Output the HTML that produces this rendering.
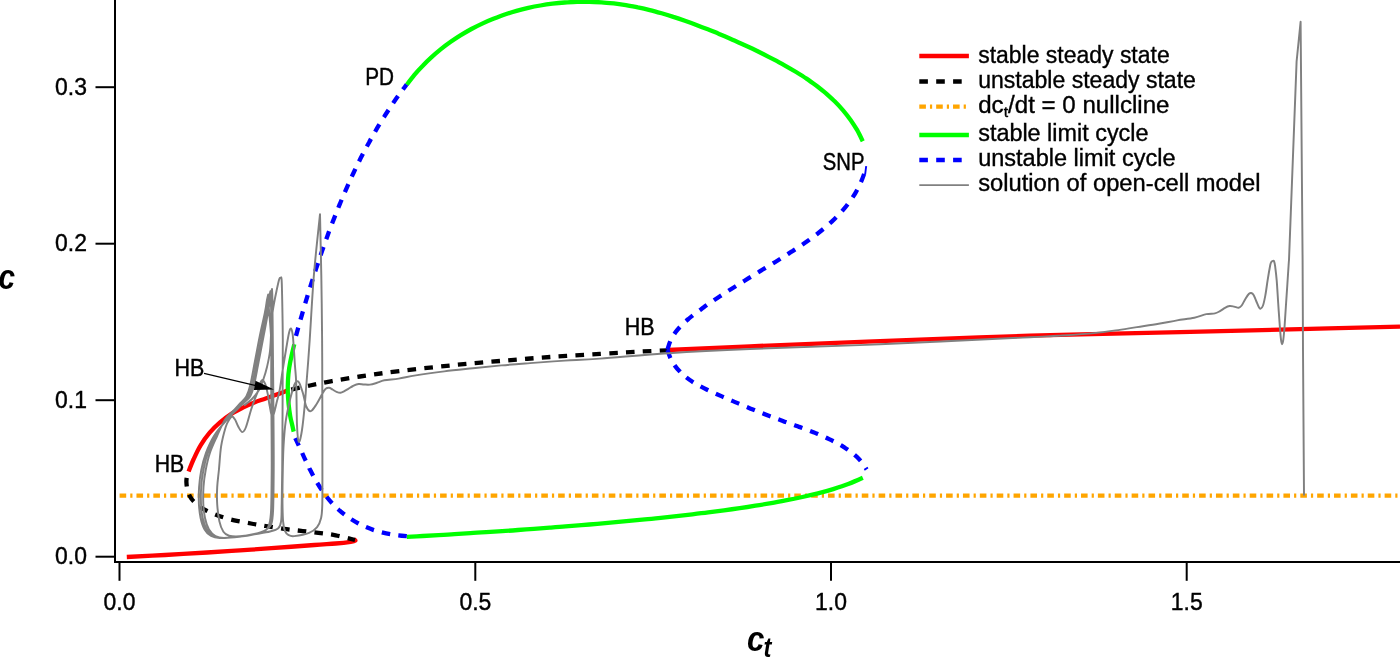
<!DOCTYPE html>
<html lang="en"><head><meta charset="utf-8"><title>Bifurcation diagram</title>
<style>html,body{margin:0;padding:0;background:#fff}body{width:1400px;height:657px;overflow:hidden}svg{display:block}text{font-family:"Liberation Sans",sans-serif;fill:#000}</style>
</head><body>
<svg width="1400" height="657" viewBox="0 0 1400 657">
<rect width="1400" height="657" fill="#fff"/>
<path d="M119.6 495.6H1397.6" stroke="#ffa500" stroke-width="4.3" fill="none" stroke-dasharray="6.6 4.05 2.2 4.017"/>
<path d="M126.8 557.0C133.2 556.7 151.6 555.8 165.0 555.0C178.4 554.2 194.6 553.3 207.1 552.5C219.6 551.7 229.3 551.1 240.0 550.4C250.7 549.7 259.0 549.1 271.4 548.2C283.8 547.3 303.6 545.8 314.3 545.0C325.0 544.2 329.6 544.0 335.7 543.5C341.8 543.0 347.4 542.3 350.7 541.8C354.0 541.3 354.8 540.9 355.3 540.5C355.8 540.1 353.8 539.5 353.5 539.3" stroke="#ff0000" stroke-width="4.3" fill="none"/>
<path d="M188.6 471.5C189.4 469.4 191.7 463.4 193.7 459.0C195.7 454.6 197.9 449.7 200.6 445.3C203.3 440.9 206.5 436.5 209.7 432.7C212.9 428.9 216.4 425.5 220.0 422.4C223.6 419.3 227.6 416.4 231.4 413.9C235.2 411.4 239.1 409.5 242.9 407.6C246.7 405.7 250.5 403.9 254.3 402.4C258.1 400.9 261.5 399.9 265.7 398.4C269.9 396.9 275.8 394.9 279.4 393.6C283.0 392.3 286.1 391.0 287.5 390.5" stroke="#ff0000" stroke-width="4.3" fill="none"/>
<path d="M668.3 350.0C681.9 349.4 714.7 347.8 750.0 346.3C785.3 344.8 833.3 342.9 880.0 341.1C926.7 339.3 980.0 337.2 1030.0 335.7C1080.0 334.2 1135.0 333.2 1180.0 332.1C1225.0 331.0 1263.3 330.1 1300.0 329.2C1336.7 328.3 1383.3 327.0 1400.0 326.6" stroke="#ff0000" stroke-width="4.3" fill="none"/>
<path d="M355.0 540.0C351.8 539.2 341.8 536.5 335.7 535.3C329.6 534.1 324.1 533.6 318.3 532.9C312.5 532.2 306.8 531.6 301.1 530.9C295.4 530.2 289.9 529.7 284.0 528.9C278.1 528.1 271.2 526.9 265.7 526.0C260.2 525.1 256.1 524.5 250.9 523.5C245.7 522.5 239.7 521.6 234.3 520.3C228.9 519.0 223.4 517.5 218.3 515.7C213.2 513.9 208.0 511.6 204.0 509.4C200.0 507.1 196.8 504.3 194.5 502.2C192.2 500.1 191.2 498.7 190.0 496.5C188.8 494.3 187.9 491.4 187.3 489.0C186.7 486.6 186.5 484.2 186.4 482.0C186.3 479.8 186.7 477.8 187.0 476.0C187.3 474.2 188.1 471.8 188.3 471.0" stroke="#000" stroke-width="4.3" fill="none" stroke-dasharray="8.59 8.26" stroke-dashoffset="1"/>
<path d="M288.0 390.3C291.7 389.5 302.7 387.0 310.0 385.5C317.3 384.0 323.7 382.6 332.0 381.1C340.3 379.6 348.7 378.2 360.0 376.5C371.3 374.8 385.0 372.8 400.0 371.0C415.0 369.2 433.3 367.2 450.0 365.5C466.7 363.8 483.3 362.4 500.0 361.0C516.7 359.6 533.3 358.2 550.0 357.0C566.7 355.8 585.0 354.8 600.0 353.9C615.0 353.0 628.7 352.2 640.0 351.6C651.3 351.0 663.2 350.5 667.8 350.3" stroke="#000" stroke-width="4.3" fill="none" stroke-dasharray="8.59 8.26" stroke-dashoffset="13.45"/>
<path d="M866.2 166.1L865.1 174.5" stroke="#0000ff" stroke-width="1.9" fill="none"/>
<path d="M406.7 84.8C408.0 83.1 411.8 78.1 414.4 74.9C417.1 71.7 419.9 68.6 422.8 65.7C425.6 62.7 428.6 59.8 431.6 57.1C434.6 54.3 437.7 51.7 440.9 49.1C444.1 46.6 447.3 44.2 450.7 41.8C454.0 39.5 457.4 37.2 460.8 35.1C464.3 33.0 467.8 31.0 471.4 29.0C474.9 27.1 478.6 25.3 482.2 23.6C485.9 21.9 489.6 20.3 493.4 18.8C497.2 17.3 501.0 15.8 504.8 14.5C508.7 13.2 512.6 12.0 516.5 10.9C520.4 9.8 524.4 8.8 528.3 7.9C532.3 7.0 536.3 6.2 540.4 5.5C544.4 4.8 548.4 4.2 552.5 3.7C556.6 3.2 560.6 2.8 564.7 2.5C568.8 2.2 572.9 2.0 577.0 1.8C581.1 1.7 585.2 1.7 589.3 1.8C593.4 1.9 597.5 2.1 601.6 2.3C605.6 2.6 609.7 3.0 613.8 3.4C617.8 3.9 621.9 4.5 625.9 5.1C629.9 5.8 633.9 6.5 637.9 7.4C641.9 8.2 645.9 9.1 649.8 10.1C653.8 11.1 657.7 12.2 661.6 13.3C665.5 14.4 669.4 15.6 673.3 16.9C677.2 18.1 681.0 19.4 684.9 20.8C688.7 22.1 692.6 23.5 696.4 25.0C700.2 26.4 704.0 27.9 707.8 29.3C711.6 30.8 715.3 32.4 719.1 33.9C722.8 35.5 726.6 37.1 730.3 38.7C734.1 40.3 737.8 42.0 741.5 43.7C745.2 45.4 748.9 47.1 752.6 48.8C756.3 50.6 759.9 52.4 763.6 54.2C767.3 56.1 770.9 58.0 774.6 59.9C778.2 61.8 781.8 63.8 785.4 65.8C789.0 67.8 792.6 69.9 796.1 72.0C799.6 74.2 803.1 76.4 806.5 78.6C809.9 80.9 813.2 83.3 816.5 85.7C819.7 88.2 822.9 90.7 826.0 93.3C829.0 96.0 832.0 98.7 834.9 101.5C837.7 104.3 840.5 107.3 843.1 110.3C845.7 113.4 848.2 116.6 850.6 119.9C852.9 123.2 855.1 126.6 857.2 130.2C859.2 133.8 861.9 139.5 862.8 141.3" stroke="#00ff00" stroke-width="4.3" fill="none"/>
<path d="M406.8 536.8C409.4 536.7 417.4 536.3 422.7 536.0C428.0 535.7 433.3 535.4 438.6 535.1C443.9 534.8 449.2 534.5 454.5 534.1C459.8 533.8 465.1 533.5 470.4 533.2C475.7 532.8 481.0 532.5 486.3 532.2C491.6 531.8 496.9 531.5 502.2 531.1C507.4 530.8 512.7 530.4 518.0 530.0C523.3 529.6 528.6 529.3 533.9 528.9C539.2 528.5 544.5 528.1 549.8 527.7C555.0 527.3 560.3 526.9 565.6 526.4C570.9 526.0 576.2 525.6 581.5 525.2C586.8 524.7 592.0 524.3 597.3 523.8C602.6 523.3 607.9 522.9 613.2 522.4C618.5 521.9 623.7 521.4 629.0 520.9C634.3 520.4 639.6 519.9 644.9 519.4C650.1 518.8 655.4 518.3 660.7 517.8C666.0 517.2 671.3 516.7 676.5 516.1C681.8 515.5 687.1 514.9 692.4 514.3C697.7 513.7 702.9 513.1 708.2 512.4C713.5 511.7 718.7 511.1 724.0 510.4C729.3 509.6 734.5 508.9 739.8 508.1C745.0 507.4 750.3 506.6 755.5 505.7C760.7 504.9 766.0 504.0 771.2 503.1C776.4 502.2 781.6 501.2 786.8 500.2C792.0 499.2 797.3 498.1 802.4 497.0C807.6 495.9 812.8 494.7 817.9 493.4C823.0 492.1 828.1 490.7 833.2 489.1C838.2 487.5 843.2 485.9 848.2 484.0C853.1 482.1 860.4 478.8 862.8 477.7" stroke="#00ff00" stroke-width="4.3" fill="none"/>
<path d="M294.3 344.3C293.8 346.2 292.4 352.1 291.5 356.0C290.6 359.9 289.8 364.0 289.2 368.0C288.6 372.0 288.2 376.0 288.0 380.0C287.8 384.0 287.7 388.0 287.8 392.0C287.9 396.0 288.2 400.0 288.6 404.0C289.0 408.0 289.6 412.5 290.2 416.0C290.8 419.5 291.6 422.4 292.2 425.0C292.8 427.6 293.4 430.5 293.7 431.6" stroke="#00ff00" stroke-width="4.3" fill="none"/>
<path d="M406.6 84.6C405.6 86.0 402.6 89.9 400.7 92.5C398.7 95.2 396.8 97.8 394.9 100.5C393.1 103.2 391.2 105.9 389.4 108.7C387.6 111.4 385.8 114.1 384.1 116.9C382.3 119.7 380.6 122.4 378.9 125.2C377.2 128.0 375.6 130.8 374.0 133.7C372.3 136.5 370.7 139.3 369.2 142.2C367.6 145.1 366.0 147.9 364.5 150.8C363.0 153.7 361.5 156.6 360.0 159.5C358.6 162.5 357.1 165.4 355.7 168.3C354.3 171.3 352.9 174.2 351.5 177.2C350.2 180.2 348.8 183.1 347.5 186.1C346.2 189.1 344.9 192.1 343.6 195.1C342.3 198.1 341.0 201.1 339.8 204.2C338.5 207.2 337.3 210.2 336.1 213.3C334.9 216.3 333.7 219.4 332.5 222.4C331.3 225.5 330.2 228.5 329.0 231.6C327.9 234.7 326.8 237.7 325.7 240.8C324.6 243.9 323.5 247.0 322.4 250.1C321.3 253.2 320.2 256.3 319.2 259.4C318.2 262.5 317.1 265.6 316.1 268.7C315.1 271.8 314.1 274.9 313.1 278.0C312.1 281.1 311.1 284.3 310.1 287.4C309.1 290.5 308.2 293.6 307.2 296.8C306.3 299.9 305.4 303.0 304.4 306.2C303.5 309.3 302.6 312.4 301.7 315.6C300.8 318.7 299.9 321.8 299.0 325.0C298.1 328.1 297.3 331.2 296.4 334.4C295.5 337.5 294.3 342.2 293.8 343.8" stroke="#0000ff" stroke-width="4.3" fill="none" stroke-dasharray="8.62 8.28" stroke-dashoffset="2.6"/>
<path d="M667.4 349.8C667.9 348.3 669.2 343.5 670.5 340.6C671.8 337.8 673.5 335.1 675.3 332.6C677.1 330.0 679.2 327.7 681.4 325.4C683.6 323.1 686.0 321.0 688.4 319.0C690.8 316.9 693.4 314.9 696.0 313.0C698.5 311.0 701.2 309.2 703.8 307.3C706.4 305.4 709.0 303.6 711.7 301.8C714.3 300.0 717.0 298.2 719.6 296.5C722.3 294.7 725.0 293.0 727.6 291.3C730.3 289.6 733.0 287.9 735.7 286.2C738.4 284.5 741.1 282.8 743.8 281.2C746.5 279.5 749.2 277.8 751.9 276.2C754.7 274.5 757.4 272.9 760.1 271.2C762.8 269.5 765.6 267.9 768.3 266.2C771.0 264.5 773.8 262.9 776.5 261.2C779.2 259.5 781.9 257.8 784.7 256.1C787.4 254.4 790.1 252.6 792.9 250.9C795.6 249.1 798.3 247.3 801.0 245.5C803.7 243.7 806.3 241.9 809.0 240.0C811.6 238.1 814.2 236.2 816.8 234.2C819.3 232.3 821.8 230.3 824.3 228.2C826.7 226.1 829.1 224.0 831.5 221.9C833.8 219.7 836.1 217.5 838.3 215.2C840.4 212.9 842.5 210.6 844.6 208.2C846.6 205.8 848.5 203.3 850.3 200.7C852.1 198.2 853.9 195.5 855.5 192.8C857.1 190.1 858.6 187.3 859.9 184.4C861.3 181.5 862.5 178.5 863.6 175.4C864.7 172.4 866.1 167.5 866.5 165.9" stroke="#0000ff" stroke-width="4.3" fill="none" stroke-dasharray="8.87 8.53" stroke-dashoffset="0"/>
<path d="M667.5 350.0C668.0 351.3 669.3 355.6 670.4 358.1C671.6 360.6 673.0 363.0 674.5 365.2C676.0 367.4 677.7 369.4 679.6 371.3C681.4 373.3 683.4 375.0 685.5 376.7C687.6 378.4 689.8 380.0 692.1 381.5C694.3 383.0 696.7 384.3 699.1 385.7C701.6 387.0 704.1 388.3 706.6 389.5C709.1 390.7 711.7 391.9 714.2 393.0C716.8 394.2 719.4 395.3 721.9 396.4C724.5 397.5 727.0 398.6 729.5 399.7C732.1 400.8 734.6 401.8 737.1 402.9C739.6 404.0 742.1 405.0 744.7 406.1C747.2 407.1 749.7 408.2 752.2 409.2C754.7 410.2 757.3 411.2 759.8 412.2C762.3 413.2 764.8 414.2 767.4 415.2C769.9 416.2 772.5 417.1 775.0 418.1C777.6 419.1 780.2 420.0 782.8 420.9C785.3 421.9 788.0 422.8 790.6 423.7C793.2 424.7 795.8 425.6 798.4 426.6C801.0 427.5 803.6 428.5 806.2 429.4C808.8 430.4 811.4 431.4 814.0 432.4C816.5 433.5 819.1 434.5 821.6 435.6C824.2 436.7 826.7 437.9 829.1 439.1C831.6 440.3 834.0 441.5 836.4 442.8C838.8 444.1 841.2 445.5 843.5 446.9C845.8 448.4 848.1 449.8 850.2 451.5C852.4 453.1 854.5 454.8 856.5 456.6C858.4 458.5 860.3 460.4 862.0 462.6C863.7 464.7 865.9 468.4 866.6 469.5" stroke="#0000ff" stroke-width="4.3" fill="none" stroke-dasharray="8.62 8.28" stroke-dashoffset="0"/>
<path d="M406.8 536.2C405.5 536.1 401.3 535.8 398.5 535.4C395.7 535.1 393.0 534.7 390.2 534.2C387.4 533.7 384.7 533.1 381.9 532.4C379.2 531.7 376.5 531.0 373.8 530.1C371.2 529.2 368.6 528.2 366.0 527.1C363.4 526.0 360.9 524.8 358.5 523.5C356.0 522.2 353.6 520.8 351.3 519.3C348.9 517.8 346.7 516.2 344.5 514.5C342.3 512.9 340.1 511.1 338.1 509.2C336.0 507.3 334.1 505.4 332.2 503.4C330.3 501.3 328.5 499.2 326.8 497.0C325.1 494.9 323.4 492.6 321.9 490.3C320.3 488.0 318.8 485.6 317.4 483.2C315.9 480.8 314.5 478.3 313.2 475.8C311.9 473.3 310.6 470.8 309.3 468.3C308.1 465.8 306.9 463.2 305.7 460.7C304.5 458.1 303.3 455.6 302.2 453.0C301.0 450.5 299.9 448.0 298.7 445.5C297.6 443.0 295.8 439.3 295.3 438.1" stroke="#0000ff" stroke-width="4.3" fill="none" stroke-dasharray="8.54 8.20" stroke-dashoffset="0"/>
<g stroke="#808080" stroke-width="1.95" fill="none" stroke-linejoin="round">
<path d="M1304.0 495.6L1303.0 351L1302.6 260L1300.6 21.8L1296.6 61.4L1289 260"/>
<path d="M1289.0 260.0C1288.9 260.9 1289.0 259.3 1288.6 265.2C1288.2 271.1 1287.3 285.5 1286.6 295.6C1285.9 305.7 1285.1 318.6 1284.6 326.0C1284.0 333.4 1283.7 336.6 1283.3 339.7C1282.9 342.8 1282.4 344.3 1282.0 344.3C1281.6 344.3 1281.4 342.8 1281.0 339.7C1280.6 336.6 1280.3 332.1 1279.8 326.0C1279.3 319.9 1278.7 310.8 1278.2 303.2C1277.7 295.6 1277.2 286.5 1276.7 280.4C1276.2 274.3 1275.6 269.9 1275.2 266.7C1274.8 263.5 1274.5 262.4 1274.1 261.4C1273.7 260.4 1273.4 260.8 1272.9 260.9C1272.5 261.0 1271.9 261.2 1271.4 261.9C1271.0 262.6 1270.8 262.1 1270.2 265.2C1269.6 268.3 1268.4 275.3 1267.6 280.4C1266.8 285.5 1266.1 291.4 1265.3 295.6C1264.5 299.8 1263.8 303.3 1263.0 305.5C1262.2 307.7 1261.4 308.4 1260.7 308.6C1260.0 308.9 1259.5 308.3 1258.8 307.0C1258.0 305.7 1257.1 303.0 1256.2 301.0C1255.3 299.0 1254.4 296.2 1253.6 294.9C1252.8 293.6 1252.0 293.2 1251.2 293.0C1250.4 292.8 1250.0 292.9 1249.0 293.8C1248.0 294.8 1246.7 296.8 1245.5 298.7C1244.3 300.6 1242.8 304.0 1241.7 305.5C1240.6 307.0 1240.0 307.6 1238.7 307.8C1237.4 308.0 1235.6 306.9 1234.1 306.6C1232.6 306.3 1231.1 305.8 1229.6 306.0C1228.1 306.2 1226.6 306.9 1225.0 307.8C1223.4 308.7 1221.7 310.2 1220.0 311.1C1218.3 312.0 1217.2 312.9 1214.9 313.4C1212.6 313.9 1209.7 313.4 1206.3 314.1C1202.9 314.8 1199.2 316.8 1194.3 317.8C1189.4 318.9 1183.0 319.4 1177.1 320.4C1171.1 321.4 1165.3 322.7 1158.6 323.8C1151.9 324.9 1144.2 326.0 1137.0 327.1C1129.8 328.2 1122.9 329.4 1115.7 330.4C1108.5 331.4 1103.0 332.2 1094.0 333.1C1085.0 334.0 1072.7 334.8 1062.0 335.5C1051.3 336.2 1060.3 335.7 1030.0 337.2C999.7 338.7 926.7 342.3 880.0 344.3C833.3 346.3 785.2 347.5 750.0 349.0C714.8 350.5 693.6 351.6 668.6 353.2C643.6 354.8 617.3 357.4 600.0 358.6C582.7 359.8 576.7 359.9 565.0 360.6C553.3 361.4 540.6 362.3 530.0 363.1C519.4 363.9 510.9 364.5 501.4 365.4C491.9 366.3 482.4 367.3 472.9 368.3C463.4 369.3 453.8 370.2 444.3 371.4C434.8 372.6 423.3 374.2 415.7 375.4C408.1 376.6 403.8 377.8 398.6 378.6C393.4 379.4 387.9 379.6 384.3 380.3C380.7 381.0 379.4 382.1 377.0 382.8C374.6 383.5 372.2 384.3 370.0 384.6C367.8 384.9 365.9 384.6 364.0 384.5C362.1 384.4 360.4 383.8 358.6 384.0C356.8 384.2 354.7 385.2 353.0 386.0C351.3 386.8 350.1 387.7 348.6 388.6C347.1 389.5 345.4 390.7 344.0 391.4C342.6 392.1 341.8 392.6 340.5 392.7C339.2 392.8 337.8 392.3 336.5 391.8C335.2 391.3 333.7 390.2 332.5 389.5C331.3 388.8 330.2 387.8 329.1 387.7C328.0 387.6 326.9 387.8 325.7 388.8C324.5 389.9 323.7 391.4 322.2 394.0C320.7 396.6 318.4 401.3 316.5 404.2C314.6 407.1 312.5 410.7 310.8 411.1C309.1 411.5 307.6 409.6 306.3 406.5C305.0 403.4 304.0 396.7 302.8 392.8C301.6 388.9 300.3 385.0 299.4 383.1C298.4 381.2 298.0 381.1 297.1 381.4C296.2 381.7 295.4 381.9 294.3 384.8C293.2 387.7 291.7 392.4 290.3 398.5C288.9 404.6 286.8 413.6 285.7 421.4C284.6 429.1 284.1 436.9 283.6 445.0C283.1 453.1 283.0 460.1 282.8 470.0C282.6 479.9 282.4 495.7 282.5 504.3C282.6 512.9 282.7 517.0 283.1 521.4C283.5 525.8 283.9 528.3 284.8 530.6C285.7 532.9 287.0 534.2 288.6 535.1C290.2 536.0 290.9 536.5 294.3 536.1C297.7 535.7 305.3 534.4 309.1 532.9C312.9 531.4 315.1 529.6 317.1 527.1C319.1 524.6 320.2 521.8 321.1 518.0C322.0 514.2 322.1 512.3 322.3 504.3C322.5 496.3 322.4 488.2 322.4 470.0C322.4 451.8 322.4 416.7 322.3 395.0C322.2 373.3 322.3 360.0 322.1 340.0C321.9 320.0 321.7 295.9 321.3 275.0C320.9 254.1 320.2 224.4 320.0 214.3C319.0 224.4 315.6 254.1 313.9 275.0C312.2 295.9 310.9 322.0 309.7 340.0C308.5 358.0 307.4 371.9 306.5 383.0C305.6 394.1 305.4 398.6 304.6 406.4C303.9 414.2 302.9 424.1 302.0 430.0C301.1 435.9 299.7 442.7 298.9 441.9C298.1 441.1 297.4 434.8 297.0 425.0C296.6 415.2 296.6 393.0 296.2 383.0C295.8 373.0 295.3 370.9 294.9 364.8C294.5 358.7 294.1 351.6 293.7 346.5C293.3 341.4 293.1 337.0 292.6 334.0C292.1 331.0 291.5 328.7 290.9 328.5C290.3 328.3 289.8 329.8 289.0 333.0C288.2 336.2 287.3 342.2 286.3 348.0C285.3 353.8 284.1 361.0 283.0 368.0C281.9 375.0 280.7 384.5 279.7 390.0C278.7 395.5 278.2 396.6 277.0 401.0C275.8 405.4 273.9 416.0 272.6 416.7C271.4 417.4 270.3 408.6 269.5 405.0C268.7 401.4 268.6 398.3 267.9 394.8C267.2 391.3 266.2 386.2 265.2 383.8C264.2 381.4 262.9 380.0 262.0 380.2C261.1 380.4 260.2 383.2 259.5 385.0C258.8 386.8 258.6 388.9 257.9 391.1C257.2 393.3 256.2 395.2 255.1 398.4C253.9 401.5 252.5 405.2 251.0 410.0C249.5 414.8 247.4 423.3 246.0 427.0C244.6 430.7 243.6 432.1 242.3 432.1C241.1 432.1 239.7 429.1 238.5 427.0C237.3 424.9 236.1 421.2 235.0 419.5C233.9 417.8 233.0 416.4 232.0 416.5C231.0 416.6 230.1 418.2 229.0 420.0C227.9 421.8 227.0 422.6 225.7 427.0C224.4 431.4 222.2 439.2 221.1 446.4C220.0 453.6 219.6 463.2 218.9 470.0C218.2 476.8 217.5 481.4 217.2 487.1C216.9 492.8 216.8 498.6 217.2 504.3C217.6 510.0 218.4 516.8 219.4 521.4C220.4 526.0 221.8 529.3 223.4 531.7C225.0 534.1 226.3 534.9 229.1 535.7C231.9 536.5 235.8 536.6 240.0 536.3C244.2 536.0 250.0 535.0 254.3 534.0C258.6 533.0 262.9 531.7 265.7 530.0C268.5 528.3 270.2 527.0 271.4 523.7C272.6 520.4 272.7 519.0 273.1 510.0C273.5 501.1 273.6 485.0 273.7 470.0C273.8 455.0 273.6 435.0 273.5 420.0C273.4 405.0 273.3 393.3 273.2 380.0C273.1 366.7 272.9 353.3 272.8 340.0C272.7 326.7 272.5 308.5 272.4 300.0C272.3 291.5 272.1 290.8 272.0 289.0C271.8 290.0 271.4 291.2 270.7 295.0C270.0 298.8 269.3 305.2 268.1 312.0C266.9 318.8 265.2 327.7 263.6 336.0C262.0 344.3 260.2 353.8 258.6 362.0C257.0 370.2 255.5 379.2 254.1 385.0C252.7 390.8 251.9 393.4 250.1 396.5C248.3 399.6 245.4 401.2 243.1 403.5C240.8 405.8 239.1 407.3 236.5 410.0C233.8 412.7 230.7 415.2 227.0 419.5C223.3 423.8 217.5 430.4 214.0 436.0C210.5 441.6 208.1 447.3 205.9 453.0C203.8 458.7 202.4 464.3 201.3 470.0C200.2 475.7 199.5 481.3 199.1 487.0C198.7 492.7 198.7 498.8 198.9 504.0C199.2 509.2 199.7 513.8 200.6 518.0C201.5 522.2 202.8 526.4 204.6 529.4C206.3 532.4 208.6 534.6 211.1 536.0C213.6 537.4 215.3 537.9 219.6 538.0C223.9 538.1 231.1 537.5 236.9 536.9C242.7 536.3 249.5 535.4 254.3 534.3C259.1 533.2 263.0 532.1 265.7 530.3C268.4 528.5 269.3 527.1 270.4 523.7C271.5 520.3 271.7 519.0 272.1 510.0C272.5 501.1 272.6 485.0 272.7 470.0C272.8 455.0 272.6 435.0 272.5 420.0C272.4 405.0 272.3 393.3 272.2 380.0C272.1 366.7 272.2 352.8 272.0 340.0C271.8 327.2 271.2 311.4 270.9 303.3C270.6 295.2 270.5 293.3 270.4 291.3C270.2 292.3 269.7 293.9 269.1 297.3C268.5 300.8 267.9 305.6 266.6 312.0C265.4 318.4 263.4 327.7 261.8 336.0C260.2 344.3 258.4 353.8 256.8 362.0C255.2 370.2 253.7 379.2 252.3 385.0C250.9 390.8 250.1 393.4 248.3 396.5C246.5 399.6 243.8 401.2 241.6 403.5C239.5 405.8 238.0 407.3 235.4 410.0C232.8 412.7 229.4 415.2 226.1 419.5C222.8 423.8 218.5 430.4 215.5 436.0C212.4 441.6 209.8 447.3 207.8 453.0C205.8 458.7 204.5 464.3 203.4 470.0C202.3 475.7 201.6 481.3 201.2 487.0C200.8 492.7 200.8 498.8 201.0 504.0C201.2 509.2 201.8 513.8 202.7 518.0C203.6 522.2 204.9 526.4 206.7 529.4C208.4 532.4 210.7 534.6 213.2 536.0C215.7 537.4 217.6 537.9 221.7 538.0C225.8 538.1 232.5 537.5 237.9 536.9C243.4 536.3 249.7 535.4 254.3 534.3C258.9 533.2 263.2 532.1 265.7 530.3C268.2 528.5 268.5 527.1 269.4 523.7C270.3 520.3 270.7 519.0 271.1 510.0C271.5 501.1 271.6 485.0 271.7 470.0C271.8 455.0 271.6 435.0 271.5 420.0C271.4 405.0 271.2 393.3 271.2 380.0C271.1 366.7 271.6 352.3 271.2 340.0C270.8 327.7 269.2 314.0 268.7 306.4C268.2 298.8 268.3 296.4 268.2 294.4C268.0 295.4 267.4 297.5 266.9 300.4C266.4 303.3 266.2 306.1 265.0 312.0C263.9 317.9 261.5 327.7 259.8 336.0C258.1 344.3 256.4 353.8 254.8 362.0C253.2 370.2 251.7 379.2 250.3 385.0C248.9 390.8 248.0 393.4 246.3 396.5C244.6 399.6 242.1 401.2 240.0 403.5C238.0 405.8 236.7 407.3 234.2 410.0C231.7 412.7 227.9 415.2 225.1 419.5C222.3 423.8 219.6 430.4 217.1 436.0C214.6 441.6 211.8 447.3 209.9 453.0C208.0 458.7 206.8 464.3 205.7 470.0C204.6 475.7 203.9 481.3 203.5 487.0C203.1 492.7 203.1 498.8 203.3 504.0C203.6 509.2 204.1 513.8 205.0 518.0C205.9 522.2 207.2 526.4 209.0 529.4C210.8 532.4 213.0 534.6 215.5 536.0C218.0 537.4 220.1 537.9 224.0 538.0C227.9 538.1 234.0 537.5 239.1 536.9C244.2 536.3 249.2 535.2 254.3 534.3C259.4 533.4 266.0 532.5 270.0 531.5C274.0 530.5 276.4 530.0 278.3 528.3C280.2 526.6 280.5 525.4 281.1 521.4C281.7 517.4 281.5 512.9 281.7 504.3C281.9 495.7 282.0 487.4 282.2 470.0C282.4 452.6 282.5 421.7 282.6 400.0C282.7 378.3 282.9 356.7 282.8 340.0C282.7 323.3 282.4 310.1 282.2 300.0C282.0 289.9 281.9 283.2 281.6 279.5C281.3 275.8 280.8 278.1 280.6 277.8C280.4 278.1 279.9 277.1 279.2 279.3C278.5 281.5 277.6 285.8 276.5 291.0C275.4 296.2 273.7 304.2 272.8 310.7C271.9 317.2 271.8 323.3 271.3 330.0C270.8 336.7 270.7 344.8 270.0 351.0C269.3 357.2 268.1 362.3 267.0 367.0C265.9 371.7 264.7 375.5 263.4 379.3C262.1 383.1 260.9 386.7 259.0 390.0C257.1 393.3 254.5 396.4 252.0 399.0C249.5 401.6 245.3 404.4 244.0 405.5"/>
</g>
<g stroke="#000" stroke-width="2" fill="none">
<path d="M115 0V563.1"/>
<path d="M114 562.1H1400"/>
<path d="M95.5 87.2H115"/>
<path d="M95.5 243.7H115"/>
<path d="M95.5 400.2H115"/>
<path d="M95.5 556.7H115"/>
<path d="M119.5 562V580.8"/>
<path d="M475.3 562V580.8"/>
<path d="M831.0 562V580.8"/>
<path d="M1186.7 562V580.8"/>
</g>
<path d="M204 373.4L256 385.6" stroke="#000" stroke-width="1.2" fill="none"/>
<path d="M274 389.4L255.5 380.7L253.9 390.1Z" fill="#000"/>
<g font-size="23.3" stroke="#000" stroke-width="0.4">
<text x="55.0" y="94.6" textLength="31.9" lengthAdjust="spacingAndGlyphs">0.3</text>
<text x="55.0" y="251.1" textLength="31.9" lengthAdjust="spacingAndGlyphs">0.2</text>
<text x="55.0" y="407.6" textLength="31.9" lengthAdjust="spacingAndGlyphs">0.1</text>
<text x="55.0" y="564.1" textLength="31.9" lengthAdjust="spacingAndGlyphs">0.0</text>
<text x="103.6" y="609.8" textLength="31.9" lengthAdjust="spacingAndGlyphs">0.0</text>
<text x="459.4" y="609.8" textLength="31.9" lengthAdjust="spacingAndGlyphs">0.5</text>
<text x="815.1" y="609.8" textLength="31.9" lengthAdjust="spacingAndGlyphs">1.0</text>
<text x="1170.8" y="609.8" textLength="31.9" lengthAdjust="spacingAndGlyphs">1.5</text>
</g>
<g font-size="24" stroke="#000" stroke-width="0.45">
<text x="365.3" y="84.9" textLength="28.8" lengthAdjust="spacingAndGlyphs">PD</text>
<text x="822.8" y="169.6" textLength="41.6" lengthAdjust="spacingAndGlyphs">SNP</text>
<text x="624.7" y="335.4" textLength="29.8" lengthAdjust="spacingAndGlyphs">HB</text>
<text x="174.6" y="376.3" textLength="29.8" lengthAdjust="spacingAndGlyphs">HB</text>
<text x="154.7" y="471.5" textLength="29.5" lengthAdjust="spacingAndGlyphs">HB</text>
</g>
<text transform="translate(-1.6 289.3) scale(0.84 1)" font-size="35.5" font-weight="bold" font-style="italic">c</text>
<text transform="translate(747 650.7) scale(0.88 1)" font-size="35.5" font-weight="bold" font-style="italic">c<tspan font-size="27" dx="-1" dy="6.5">t</tspan></text>
<g stroke-width="4.3" fill="none">
<path d="M919.3 56H968.9" stroke="#ff0000"/>
<path d="M919.3 81.5H968.9" stroke="#000" stroke-dasharray="8.6 8.3"/>
<path d="M919.3 106.7H968.9" stroke="#ffa500" stroke-dasharray="6.6 4.05 2.2 4.017"/>
<path d="M919.3 135H968.9" stroke="#00ff00"/>
<path d="M919.3 160H968.9" stroke="#0000ff" stroke-dasharray="8.6 8.3"/>
<path d="M919.3 185.2H968.9" stroke="#808080" stroke-width="1.7"/>
</g>
<g font-size="23" stroke="#000" stroke-width="0.35">
<text x="978.2" y="62.8" textLength="191.5" lengthAdjust="spacingAndGlyphs">stable steady state</text>
<text x="978.2" y="87.6" textLength="217.7" lengthAdjust="spacingAndGlyphs">unstable steady state</text>
<text x="978.2" y="113.2" textLength="191.3" lengthAdjust="spacingAndGlyphs">dc<tspan font-size="15" dy="4">t</tspan><tspan dy="-4">/dt = 0 nullcline</tspan></text>
<text x="978.2" y="140.5" textLength="170.3" lengthAdjust="spacingAndGlyphs">stable limit cycle</text>
<text x="978.2" y="166.1" textLength="197.3" lengthAdjust="spacingAndGlyphs">unstable limit cycle</text>
<text x="978.2" y="191.4" textLength="282.3" lengthAdjust="spacingAndGlyphs">solution of open-cell model</text>
</g>
</svg>
</body></html>
